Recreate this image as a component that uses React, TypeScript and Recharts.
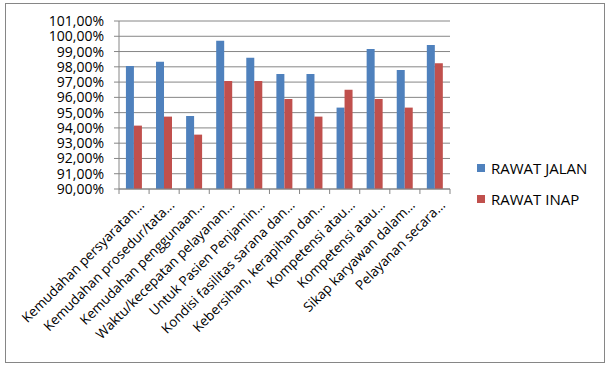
import React from "react";
import {
  BarChart,
  Bar,
  XAxis,
  YAxis,
  CartesianGrid,
  Legend,
} from "recharts";

const categories = [
  "Kemudahan persyaratan...",
  "Kemudahan prosedur/tata...",
  "Kemudahan penggunaan...",
  "Waktu/kecepatan pelayanan...",
  "Untuk Pasien Penjamin...",
  "Kondisi fasilitas sarana dan...",
  "Kebersihan, kerapihan dan...",
  "Kompetensi atau...",
  "Kompetensi atau...",
  "Sikap karyawan dalam...",
  "Pelayanan secara...",
];

const rawatJalan = [98.05, 98.34, 94.78, 99.71, 98.6, 97.53, 97.53, 95.33, 99.17, 97.79, 99.43];
const rawatInap = [94.15, 94.74, 93.56, 97.07, 97.07, 95.89, 94.74, 96.5, 95.89, 95.33, 98.23];

const yTicks = [90, 91, 92, 93, 94, 95, 96, 97, 98, 99, 100, 101];

const seriesOrder = ["RAWAT JALAN", "RAWAT INAP"];

const BLUE = "#4F81BD";
const RED = "#C0504D";
const GRID = "#868686";
const FONT = "'Open Sans', sans-serif";

const data = categories.map((name, i) => ({
  name,
  jalan: rawatJalan[i],
  inap: rawatInap[i],
}));

const fmt = (v: number) => v.toFixed(2).replace(".", ",") + "%";

function CategoryTick(props: any) {
  const { x, y, payload, index } = props;
  const half = payload && payload.offset ? payload.offset : 15;
  const axisY = y - 5;
  const last = index === categories.length - 1;
  const tx = x + 11;
  const ty = y + 12;
  return (
    <g>
      <line x1={x - half} y1={axisY} x2={x - half} y2={y} stroke={GRID} />
      {last && <line x1={x + half} y1={axisY} x2={x + half} y2={y} stroke={GRID} />}
      <text
        x={tx}
        y={ty}
        transform={`rotate(-45 ${tx} ${ty})`}
        textAnchor="end"
        fontFamily={FONT}
        fontSize={13.5}
        fill="#000"
      >
        {payload.value}
      </text>
    </g>
  );
}

function LegendBox(props: any) {
  const items = [...(props.payload || [])].sort(
    (a: any, b: any) => seriesOrder.indexOf(a.value) - seriesOrder.indexOf(b.value)
  );
  return (
    <div style={{ fontFamily: FONT, fontSize: 15, color: "#000" }}>
      {items.map((it: any) => (
        <div key={it.value} style={{ display: "flex", alignItems: "center", height: 31 }}>
          <span style={{ width: 8, height: 8, background: it.color, marginRight: 6, display: "inline-block" }} />
          <span>{it.value}</span>
        </div>
      ))}
    </div>
  );
}

export default function App() {
  return (
    <div style={{ position: "absolute", left: 0, top: 0, width: 611, height: 370, background: "#fff" }}>
      <div
        style={{
          position: "absolute",
          left: 5,
          top: 3,
          width: 598,
          height: 358,
          border: `1px solid ${GRID}`,
        }}
      />
      <BarChart
        width={611}
        height={370}
        data={data}
        margin={{ top: 21, right: 161, left: 0, bottom: 0 }}
        barCategoryGap="23%"
        barGap={0}
      >
        <CartesianGrid vertical={false} stroke={GRID} />
        <XAxis
          dataKey="name"
          height={181}
          interval={0}
          tickLine={false}
          tickSize={5}
          tickMargin={0}
          axisLine={{ stroke: GRID }}
          tick={<CategoryTick />}
        />
        <YAxis
          width={119}
          domain={[90, 101]}
          ticks={yTicks}
          interval={0}
          tickFormatter={fmt}
          tickSize={5}
          tickMargin={10}
          axisLine={{ stroke: GRID }}
          tickLine={{ stroke: GRID }}
          tick={{ fill: "#000", fontSize: 14, fontFamily: FONT }}
        />
        <Legend
          layout="vertical"
          align="center"
          verticalAlign="middle"
          wrapperStyle={{ left: 477, top: 152, width: 130 }}
          content={<LegendBox />}
        />
        <Bar dataKey="jalan" name="RAWAT JALAN" fill={BLUE} isAnimationActive={false} />
        <Bar dataKey="inap" name="RAWAT INAP" fill={RED} isAnimationActive={false} />
      </BarChart>
    </div>
  );
}
